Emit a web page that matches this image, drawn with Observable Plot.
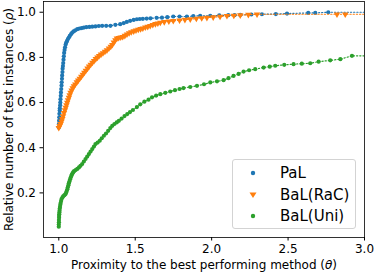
<!DOCTYPE html>
<html><head><meta charset="utf-8">
<script src="https://cdn.jsdelivr.net/npm/d3@7"></script>
<script src="https://cdn.jsdelivr.net/npm/@observablehq/plot@0.6"></script>
<style>
body{margin:0;background:#fff;}
#chart{position:relative;width:374px;height:273px;font-family:"DejaVu Sans";}
.legend{position:absolute;left:232px;top:159px;width:124px;height:70px;box-sizing:border-box;border:1px solid #d3d3d3;border-radius:3px;background:rgba(255,255,255,0.85);}
.row{position:absolute;left:0;height:20px;line-height:20px;font-size:15px;color:#000;white-space:nowrap;}
.row svg{position:absolute;left:16px;top:6px;}
.row span{position:absolute;left:47px;top:0;}
</style>
</head><body><div id="chart"></div>
<script>
const seriesNames = ["PaL", "BaL(RaC)", "BaL(Uni)"];
const seriesColors = ["#1f77b4", "#ff7f0e", "#2ca02c"];
const xTicks = [1.0, 1.5, 2.0, 2.5, 3.0];
const yTicks = [0.2, 0.4, 0.6, 0.8, 1.0];

const palTheta = [1.000,1.001,1.002,1.003,1.004,1.006,1.007,1.009,1.010,1.011,1.013,1.014,1.016,1.018,1.019,1.021,1.022,1.024,1.025,1.027,1.029,1.031,1.033,1.035,1.038,1.041,1.045,1.049,1.054,1.060,1.066,1.072,1.080,1.088,1.097,1.108,1.121,1.135,1.150,1.164,1.180,1.200,1.219,1.240,1.262,1.284,1.310,1.338,1.370,1.402,1.425,1.445,1.467,1.490,1.511,1.530,1.550,1.575,1.600,1.640,1.675,1.710,1.749,1.790,1.838,1.880,1.925,1.991,2.050,2.109,2.150,2.187,2.260,2.329,2.420,2.493,2.632,2.678,2.763,3.200];
const palRho = [0.490,0.505,0.520,0.535,0.550,0.565,0.575,0.588,0.600,0.615,0.630,0.645,0.660,0.675,0.690,0.705,0.720,0.735,0.750,0.762,0.775,0.790,0.805,0.820,0.833,0.845,0.857,0.866,0.873,0.881,0.888,0.895,0.903,0.910,0.915,0.920,0.925,0.928,0.930,0.932,0.934,0.935,0.936,0.937,0.939,0.940,0.940,0.940,0.944,0.947,0.952,0.957,0.962,0.966,0.969,0.970,0.971,0.972,0.973,0.975,0.976,0.978,0.981,0.981,0.981,0.983,0.984,0.984,0.986,0.987,0.987,0.988,0.990,0.991,0.992,0.994,0.997,0.997,1.000,1.000];

const racTheta = [1.000,1.006,1.012,1.018,1.023,1.028,1.034,1.040,1.045,1.050,1.055,1.060,1.066,1.071,1.077,1.084,1.091,1.099,1.108,1.118,1.127,1.137,1.147,1.157,1.167,1.177,1.188,1.198,1.209,1.220,1.231,1.242,1.253,1.264,1.276,1.289,1.302,1.315,1.328,1.340,1.350,1.360,1.370,1.380,1.392,1.405,1.418,1.432,1.446,1.460,1.474,1.490,1.505,1.520,1.535,1.550,1.566,1.582,1.598,1.615,1.632,1.648,1.664,1.690,1.720,1.749,1.790,1.825,1.860,1.900,1.935,1.969,2.010,2.055,2.100,2.145,2.187,2.240,2.297,2.820,2.874,3.200];
const racRho = [0.488,0.497,0.506,0.517,0.528,0.540,0.554,0.567,0.578,0.589,0.600,0.611,0.622,0.633,0.644,0.654,0.664,0.673,0.681,0.690,0.698,0.706,0.715,0.724,0.733,0.742,0.751,0.760,0.768,0.777,0.785,0.793,0.800,0.807,0.813,0.819,0.826,0.832,0.840,0.848,0.856,0.866,0.877,0.884,0.887,0.889,0.891,0.896,0.902,0.908,0.912,0.916,0.920,0.923,0.926,0.929,0.933,0.936,0.940,0.944,0.948,0.951,0.954,0.957,0.960,0.962,0.964,0.967,0.969,0.972,0.974,0.976,0.978,0.981,0.984,0.985,0.987,0.989,0.991,0.991,0.991,0.991];

const uniTheta = [1.000,1.000,1.001,1.001,1.002,1.002,1.003,1.004,1.005,1.006,1.008,1.010,1.012,1.015,1.018,1.024,1.030,1.037,1.044,1.048,1.052,1.056,1.059,1.063,1.066,1.070,1.074,1.078,1.082,1.086,1.090,1.095,1.100,1.110,1.121,1.132,1.142,1.153,1.164,1.175,1.186,1.197,1.208,1.219,1.230,1.240,1.254,1.268,1.281,1.295,1.309,1.323,1.337,1.350,1.364,1.379,1.393,1.411,1.430,1.448,1.466,1.485,1.511,1.533,1.560,1.587,1.610,1.637,1.664,1.697,1.729,1.760,1.790,1.816,1.860,1.904,1.950,1.991,2.035,2.078,2.110,2.143,2.176,2.209,2.245,2.285,2.340,2.380,2.416,2.475,2.536,2.590,2.645,2.700,2.776,2.842,2.918,3.200];
const uniRho = [0.050,0.060,0.070,0.080,0.090,0.098,0.105,0.113,0.121,0.130,0.138,0.147,0.155,0.164,0.173,0.180,0.186,0.190,0.195,0.201,0.208,0.216,0.225,0.234,0.243,0.251,0.260,0.268,0.275,0.281,0.287,0.292,0.296,0.301,0.306,0.313,0.320,0.328,0.339,0.350,0.361,0.372,0.383,0.394,0.405,0.416,0.423,0.431,0.442,0.453,0.463,0.475,0.487,0.497,0.505,0.512,0.519,0.529,0.540,0.549,0.558,0.567,0.580,0.592,0.604,0.613,0.623,0.631,0.637,0.643,0.649,0.655,0.660,0.664,0.669,0.674,0.681,0.689,0.694,0.699,0.708,0.718,0.727,0.737,0.743,0.748,0.755,0.759,0.763,0.767,0.770,0.772,0.774,0.781,0.787,0.792,0.807,0.807];

const thetas = [palTheta, racTheta, uniTheta];
const rhos = [palRho, racRho, uniRho];
const rows = seriesNames.map((name, i) => thetas[i].map((t, j) => ({series: name, theta: t, rho: rhos[i][j]})));

const marks = [];
rows.forEach((data, i) => {
  marks.push(Plot.line(data, {x: "theta", y: "rho", stroke: "series", strokeWidth: 1.2, strokeDasharray: "1.2,2", clip: true}));
  if (i === 1) {
    marks.push(Plot.dot(data, {x: "theta", y: "rho", fill: "series", symbol: "triangle", rotate: 180, r: 2.4, clip: true}));
  } else {
    marks.push(Plot.dot(data, {x: "theta", y: "rho", fill: "series", r: 2.1, clip: true}));
  }
});
marks.push(Plot.frame({stroke: "#000", strokeWidth: 0.8}));

const chart = Plot.plot({
  width: 374, height: 273,
  marginLeft: 43, marginRight: 10, marginTop: 1, marginBottom: 36,
  style: {fontFamily: "DejaVu Sans", fontSize: "12px", color: "#000", background: "#fff"},
  x: {domain: [0.9, 3.0], ticks: xTicks, tickFormat: d => d.toFixed(1), tickSize: 3.5, tickPadding: 3,
      label: "Proximity to the best performing method (θ)", labelAnchor: "center", labelArrow: "none", labelOffset: 31},
  y: {domain: [0.0025, 1.0475], ticks: yTicks, tickFormat: d => d.toFixed(1), tickSize: 3.5, tickPadding: 4,
      label: "Relative number of test instances (ρ)", labelAnchor: "center", labelArrow: "none", labelOffset: 39},
  color: {domain: seriesNames, range: seriesColors},
  marks
});
chart.querySelectorAll("text").forEach(t => {
  const s = t.textContent;
  if (s.includes("(θ)")) t.innerHTML = s.replace("(θ)", '(<tspan font-style="italic">θ</tspan>)');
  if (s.includes("(ρ)")) t.innerHTML = s.replace("(ρ)", '(<tspan font-style="italic">ρ</tspan>)');
});
const host = document.getElementById("chart");
host.appendChild(chart);

const legend = document.createElement("div");
legend.className = "legend";
const rowTops = [3, 24.5, 46];
seriesNames.forEach((name, i) => {
  const row = document.createElement("div");
  row.className = "row";
  row.style.top = rowTops[i] + "px";
  const shape = i === 1
    ? `<polygon points="0.5,1.5 7.5,1.5 4,7" fill="${seriesColors[i]}"/>`
    : `<circle cx="4" cy="4" r="2.2" fill="${seriesColors[i]}"/>`;
  row.innerHTML = `<svg width="8" height="8">${shape}</svg><span>${name}</span>`;
  legend.appendChild(row);
});
host.appendChild(legend);
</script>
</body></html>
